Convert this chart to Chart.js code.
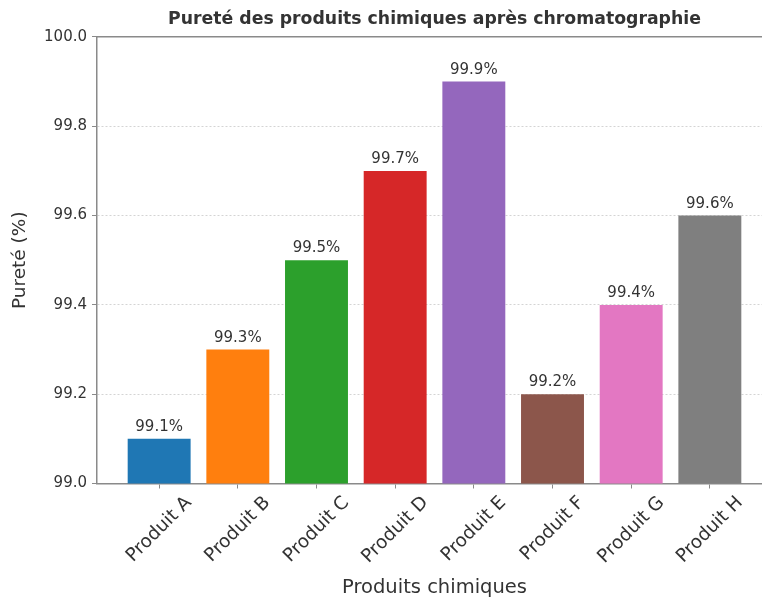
<!DOCTYPE html>
<html>
<head>
<meta charset="utf-8">
<script src="https://cdn.jsdelivr.net/npm/chart.js@4.4.1/dist/chart.umd.min.js"></script>
<style>
  html, body { margin: 0; padding: 0; background: #fff; overflow: hidden; }
  #wrap { width: 762px; height: 599px; overflow: hidden; }
  canvas { display: block; }
</style>
</head>
<body>
<div id="wrap"><canvas id="chart" width="782" height="599"></canvas></div>
<script>
// Purity of each product after chromatography (%)
const categories = ['Produit A', 'Produit B', 'Produit C', 'Produit D', 'Produit E', 'Produit F', 'Produit G', 'Produit H'];
const purity = [99.1, 99.3, 99.5, 99.7, 99.9, 99.2, 99.4, 99.6];
const barColors = ['#1f77b4', '#ff7f0e', '#2ca02c', '#d62728', '#9467bd', '#8c564b', '#e377c2', '#7f7f7f'];
const yTicks = [99.0, 99.2, 99.4, 99.6, 99.8, 100.0];

const FAMILY = "'DejaVu Sans', sans-serif";
const TEXT = '#333333';
const AXIS = '#8a8a8a';

// Value labels above each bar
const valueLabels = {
  id: 'valueLabels',
  afterDatasetsDraw(chart) {
    const { ctx } = chart;
    const meta = chart.getDatasetMeta(0);
    ctx.save();
    ctx.font = `15px ${FAMILY}`;
    ctx.fillStyle = TEXT;
    ctx.textAlign = 'center';
    ctx.textBaseline = 'alphabetic';
    meta.data.forEach((bar, i) => {
      ctx.fillText(purity[i].toFixed(1) + '%', bar.x, bar.y - 8);
    });
    ctx.restore();
  }
};

// Category names rotated 45 degrees, centred under each tick
const rotatedCategoryLabels = {
  id: 'rotatedCategoryLabels',
  afterDraw(chart) {
    const { ctx } = chart;
    const xs = chart.scales.x;
    ctx.save();
    ctx.font = `18.5px ${FAMILY}`;
    ctx.fillStyle = TEXT;
    ctx.textAlign = 'center';
    ctx.textBaseline = 'middle';
    const top = xs.top + 10;
    categories.forEach((name, i) => {
      const w = ctx.measureText(name).width;
      const h = 18;
      const half = (w + h) * Math.SQRT1_2 / 2;
      ctx.save();
      ctx.translate(xs.getPixelForValue(i), top + half);
      ctx.rotate(-Math.PI / 4);
      ctx.fillText(name, 0, 0);
      ctx.restore();
    });
    ctx.restore();
  }
};

new Chart(document.getElementById('chart'), {
  type: 'bar',
  data: {
    datasets: [{
      data: categories.map((c, i) => ({ x: i, y: purity[i] })),
      backgroundColor: barColors,
      borderWidth: 0,
      barPercentage: 0.8,
      categoryPercentage: 1
    }]
  },
  options: {
    responsive: false,
    animation: false,
    devicePixelRatio: 1,
    layout: { padding: { left: 0, right: 10, top: 0, bottom: 0 } },
    plugins: {
      legend: { display: false },
      tooltip: { enabled: false },
      title: {
        display: true,
        text: 'Pureté des produits chimiques après chromatographie',
        fullSize: false,
        color: TEXT,
        font: { family: FAMILY, size: 17.3, weight: 'bold' },
        padding: { top: 9, bottom: 7.2 }
      }
    },
    scales: {
      x: {
        type: 'linear',
        position: 'bottom',
        min: -0.79,
        max: 7.79,
        offset: false,
        afterBuildTicks: (s) => { s.ticks = categories.map((_, i) => ({ value: i })); },
        afterFit: (s) => { s.height = 115.5; },
        ticks: { display: false },
        grid: { offset: false, drawOnChartArea: false, drawTicks: true, tickLength: 5, tickColor: AXIS, tickWidth: 1 },
        border: { color: AXIS, width: 1.5 },
        title: {
          display: true,
          text: 'Produits chimiques',
          color: TEXT,
          font: { family: FAMILY, size: 19.5 },
          padding: { top: 0, bottom: -1 }
        }
      },
      xTop: {
        type: 'linear',
        position: 'top',
        min: 0,
        max: 1,
        afterFit: (s) => { s.height = 0; },
        ticks: { display: false },
        grid: { display: false },
        border: { color: AXIS, width: 1.5 }
      },
      y: {
        min: 99,
        max: 100,
        afterBuildTicks: (s) => { s.ticks = yTicks.map((v) => ({ value: v })); },
        afterFit: (s) => { s.width = 97; },
        ticks: {
          callback: (v) => Number(v).toFixed(1),
          color: TEXT,
          font: { family: FAMILY, size: 15 },
          padding: 5
        },
        grid: { color: '#d4d4d4', lineWidth: 1, tickLength: 5, tickColor: AXIS, tickWidth: 1 },
        border: { color: AXIS, width: 1.5, dash: [2, 2] },
        title: {
          display: true,
          text: 'Pureté (%)',
          color: TEXT,
          font: { family: FAMILY, size: 18.5 },
          padding: { top: 9, bottom: 0 }
        }
      }
    }
  },
  plugins: [valueLabels, rotatedCategoryLabels]
});
</script>
</body>
</html>
